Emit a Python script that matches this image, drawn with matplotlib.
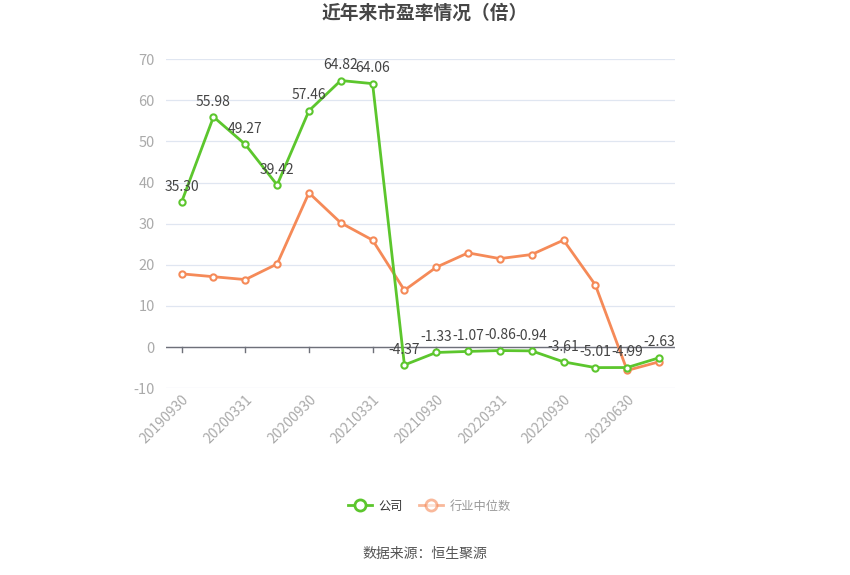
import matplotlib.pyplot as plt

plt.rcParams['font.family'] = ['Noto Sans CJK SC', 'DejaVu Sans']
plt.rcParams['axes.unicode_minus'] = False

dates = ['20190930', '20191231', '20200331', '20200630', '20200930', '20201231',
         '20210331', '20210630', '20210930', '20211231', '20220331', '20220630',
         '20220930', '20221231', '20230630', '20230930']
company = [35.30, 55.98, 49.27, 39.42, 57.46, 64.82, 64.06, -4.37,
           -1.33, -1.07, -0.86, -0.94, -3.61, -5.01, -4.99, -2.63]
industry = [17.8, 17.1, 16.4, 20.2, 37.5, 30.2, 26.0, 13.8,
            19.4, 22.9, 21.5, 22.5, 26.0, 15.1, -5.7, -3.6]
# shown tick labels (every other category)
tick_labels = ['20190930', '20200331', '20200930', '20210331',
               '20210930', '20220331', '20220930', '20230630']

green = '#5cc62d'
orange = '#f58a58'

fig = plt.figure(figsize=(8.5, 5.75), dpi=100)
ax = fig.add_axes([0.195, 0.325, 0.599, 0.572])

x = list(range(len(dates)))
ax.plot(x, industry, color=orange, lw=2, marker='o', ms=4.5, mfc='white',
        mec=orange, mew=1.5, label='行业中位数', zorder=3)
ax.plot(x, company, color=green, lw=2, marker='o', ms=4.5, mfc='white',
        mec=green, mew=1.5, label='公司', zorder=4)

for xi, v in zip(x, company):
    ax.annotate(f'{v:.2f}', (xi, v), xytext=(0, 6), textcoords='offset points',
                ha='center', va='bottom', fontsize=10, color='#444444', zorder=5)

ax.set_xlim(-0.5, len(dates) - 0.5)
ax.set_ylim(-10, 70)
ax.set_yticks(range(-10, 71, 10))
ax.grid(axis='y', color='#e0e6f1', lw=0.9)
ax.set_axisbelow(True)
for s in ['top', 'right', 'left', 'bottom']:
    ax.spines[s].set_visible(False)
ax.axhline(0, color='#6e7079', lw=1, zorder=2)

tick_pos = [dates.index(t) for t in tick_labels]
ax.set_xticks(tick_pos)
ax.set_xticklabels(tick_labels, rotation=45, ha='right', va='top',
                   rotation_mode='anchor', color='#aaaaaa', fontsize=10)
ax.tick_params(axis='x', length=0, pad=3)
for t in tick_pos:
    ax.plot([t, t], [0, -1.1], color='#6e7079', lw=1, clip_on=False, zorder=2)
ax.tick_params(axis='y', length=0, colors='#aaaaaa', labelsize=10.5, pad=8)

fig.text(0.5, 0.977, '近年来市盈率情况（倍）', ha='center', va='center',
         fontsize=13.5, fontweight='bold', color='#464646')

leg = fig.legend(handles=ax.get_legend_handles_labels()[0][::-1],
                 labels=['公司', '行业中位数'], loc='center', bbox_to_anchor=(0.505, 0.12),
                 ncol=2, frameon=False, fontsize=8.8, handlelength=2.0,
                 columnspacing=1.3, handletextpad=0.5)
for h in leg.legend_handles:
    h.set_markersize(8)
    h.set_markeredgewidth(2)
leg.legend_handles[1].set_alpha(0.6)
leg.get_texts()[0].set_color('#333333')
leg.get_texts()[1].set_color('#999999')

fig.text(0.5, 0.037, '数据来源：恒生聚源', ha='center', va='center',
         fontsize=10, color='#555555')

fig.savefig('out.png', dpi=100)
